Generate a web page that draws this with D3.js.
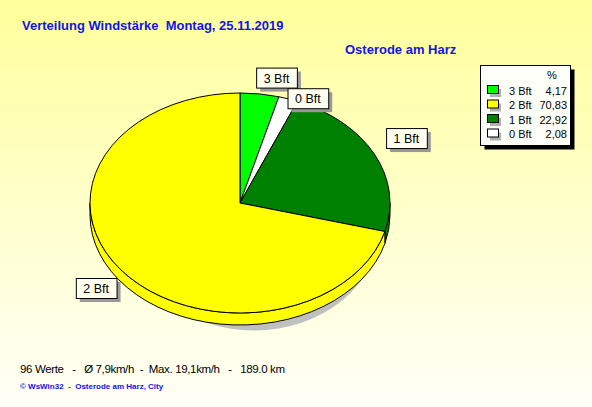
<!DOCTYPE html>
<html>
<head>
<meta charset="utf-8">
<script src="https://cdn.jsdelivr.net/npm/d3@7"></script>
<style>
  html, body { margin: 0; padding: 0; }
  svg { display: block; font-family: Arial, "Liberation Sans", sans-serif; }
  text { white-space: pre; }
</style>
</head>
<body>
<svg id="chart" width="592" height="407"></svg>
<script>
// data
var labels = ["3 Bft", "0 Bft", "1 Bft", "2 Bft"];
var percents = [4.17, 2.08, 22.92, 70.83];
var colors = ["#00ff00", "#ffffff", "#008000", "#ffff00"];
var legendOrder = ["3 Bft", "2 Bft", "1 Bft", "0 Bft"];
var titleText = "Verteilung Windstärke  Montag, 25.11.2019";
var placeText = "Osterode am Harz";
var infoText = "96 Werte   -   Ø 7,9km/h  -  Max. 19,1km/h   -   189.0 km";
var footText = "© WsWin32  -  Osterode am Harz, City";

// layout
var W = 592, H = 407;
var cx = 240, cy = 203, rx = 150, ry = 110, depth = 12;
var labelNudge = [[13, 0], [10, 15], [5, -9], [-1, 8]];

var svg = d3.select("#chart");

var defs = svg.append("defs");
var grad = defs.append("linearGradient").attr("id", "bg")
    .attr("x1", 0).attr("y1", 0).attr("x2", 0).attr("y2", 1);
grad.append("stop").attr("offset", "0%").attr("stop-color", "#ffff9c");
grad.append("stop").attr("offset", "100%").attr("stop-color", "#fffff8");

svg.append("rect").attr("width", W).attr("height", H).attr("fill", "url(#bg)");

// titles
svg.append("text").attr("x", 22).attr("y", 30)
    .attr("font-size", 13).attr("font-weight", "bold").attr("fill", "#1414e6")
    .text(titleText);
svg.append("text").attr("x", 345).attr("y", 54)
    .attr("font-size", 13).attr("font-weight", "bold").attr("fill", "#1414e6")
    .text(placeText);

// pie
var pie = d3.pie().sort(null).value(function(d) { return d; });
var arcs = pie(percents);
var k = ry / rx;

var pg = svg.append("g").attr("transform", "translate(" + cx + "," + cy + ") scale(1," + k + ")");

// shadow
pg.append("ellipse").attr("cx", 14).attr("cy", (depth + 10) / k).attr("rx", rx - 24).attr("ry", rx - 6)
    .attr("fill", "#c0c0c0");

// side walls (front half only)
var dd = depth / k;
arcs.forEach(function(a, i) {
  var t0 = Math.max(a.startAngle, Math.PI / 2);
  var t1 = Math.min(a.endAngle, 3 * Math.PI / 2);
  if (t1 <= t0) return;
  var p = d3.path();
  p.moveTo(rx * Math.sin(t0), -rx * Math.cos(t0));
  p.arc(0, 0, rx, t0 - Math.PI / 2, t1 - Math.PI / 2);
  p.lineTo(rx * Math.sin(t1), -rx * Math.cos(t1) + dd);
  p.arc(0, dd, rx, t1 - Math.PI / 2, t0 - Math.PI / 2, true);
  p.closePath();
  pg.append("path").attr("d", p.toString())
      .attr("fill", colors[i]).attr("stroke", "#000").attr("stroke-width", 1)
      .attr("vector-effect", "non-scaling-stroke");
});

var arc = d3.arc().innerRadius(0).outerRadius(rx);
pg.selectAll("path.slice").data(arcs).enter().append("path")
    .attr("class", "slice")
    .attr("d", arc)
    .attr("fill", function(d, i) { return colors[i]; })
    .attr("stroke", "#000").attr("stroke-width", 1)
    .attr("vector-effect", "non-scaling-stroke");

// slice labels
arcs.forEach(function(a, i) {
  var m = (a.startAngle + a.endAngle) / 2;
  var x = cx + 1.2 * rx * Math.sin(m) + labelNudge[i][0];
  var y = cy - 1.15 * ry * Math.cos(m) + labelNudge[i][1];
  var g = svg.append("g").attr("transform", "translate(" + x + "," + y + ")");
  var t = g.append("text").attr("text-anchor", "middle").attr("y", 5)
      .attr("font-size", 12.5).attr("fill", "#000").text(labels[i]);
  var bw = t.node().getComputedTextLength() + 15, bh = 20;
  g.insert("rect", "text").attr("x", -bw / 2 + 4).attr("y", -bh / 2 + 4)
      .attr("width", bw).attr("height", bh).attr("fill", "#999");
  g.insert("rect", "text").attr("x", -bw / 2 + 0.5).attr("y", -bh / 2 + 0.5)
      .attr("width", bw).attr("height", bh).attr("fill", "#fffff0")
      .attr("stroke", "#000").attr("stroke-width", 1);
});

// legend
var lx = 480.5, ly = 65.5, lw = 90, lh = 80;
svg.append("rect").attr("x", lx + 4).attr("y", ly + 4).attr("width", lw).attr("height", lh).attr("fill", "#000");
svg.append("rect").attr("x", lx).attr("y", ly).attr("width", lw).attr("height", lh)
    .attr("fill", "#fffffa").attr("stroke", "#000");
svg.append("text").attr("x", 552).attr("y", 79).attr("text-anchor", "middle")
    .attr("font-size", 11).text("%");

var rowY = d3.scalePoint().domain(legendOrder).range([90, 133.5]);
legendOrder.forEach(function(name) {
  var i = labels.indexOf(name);
  var y = rowY(name);
  svg.append("rect").attr("x", 490).attr("y", y - 1).attr("width", 11).attr("height", 8).attr("fill", "#b0b0b0");
  svg.append("rect").attr("x", 487.5).attr("y", y - 4.5).attr("width", 11).attr("height", 8)
      .attr("fill", colors[i]).attr("stroke", "#000");
  svg.append("text").attr("x", 509).attr("y", y + 4.5).attr("font-size", 11).text(name);
  svg.append("text").attr("x", 567).attr("y", y + 4.5).attr("font-size", 11)
      .attr("text-anchor", "end").text(d3.format(".2f")(percents[i]).replace(".", ","));
});

// footer
svg.append("text").attr("x", 20).attr("y", 373).attr("font-size", 11.5).attr("fill", "#000")
    .attr("textLength", 265).attr("lengthAdjust", "spacing").text(infoText);
svg.append("text").attr("x", 20).attr("y", 389).attr("font-size", 8).attr("font-weight", "bold")
    .attr("fill", "#1414e6").text(footText);
</script>
</body>
</html>
